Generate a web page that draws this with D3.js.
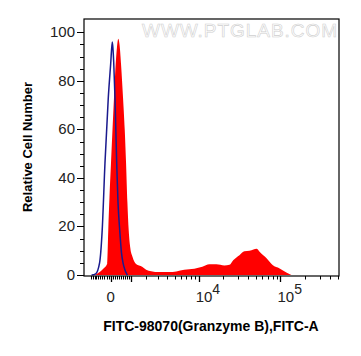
<!DOCTYPE html>
<html><head><meta charset="utf-8">
<script src="https://cdn.jsdelivr.net/npm/d3@7"></script>
<style>
html,body{margin:0;padding:0;background:#fff;}
svg{display:block;font-family:"Liberation Sans",Arial,sans-serif;}
</style></head>
<body><svg id="c" width="361" height="356"></svg>
<script>
// ---- data (FITC-A channel values, relative cell number) ----
const redX = [-780,-570,-370,-165,-115,-58,14,87,159,241,304,368,427,502,603,690,760,830,900,990,1110,1320,1710,1990,2380,3100,4230,5240,6620,8830,11100,13550,16500,20700,23900,26700,31600,36400,41900,46900,51100,55600,62200,67700,80200,97700,118000,135800];
const redY = [0,1,2.5,4.8,18.5,32,46,60,73,87,94,97.4,95,87,73,60,46,30,18.5,11,7.5,4.5,3.4,2.2,1.6,1.2,1.2,1.5,2.2,2.6,3.4,4.4,4.4,3.9,4.2,6.2,8.2,9.8,10,10.5,10.8,9.6,8,6.9,4.1,2.7,1,0];
const blueX = [-960,-740,-540,-410,-275,-115,0,77,111,144,207,290,353,437,527,603,706,827];
const blueY = [0,0.5,5,18.5,46,73,87,96,93,88,73,46,30,18.5,9,5,2,0];
const yTicks = [0,20,40,60,80,100];
const xLabelTicks = [0,1e4,1e5];
const xMajorTicks = [0,1e3,1e4,1e5];
const xDomain = [-1400, 517000];
const yDomain = [-0.4, 105.5];
const cofactor = 1706;
const xTitle = "FITC-98070(Granzyme B),FITC-A";
const yTitle = "Relative Cell Number";
const watermark = "WWW.PTGLAB.COM";

// ---- layout ----
const L = 84, R = 339, T = 19, B = 276;
const svg = d3.select("#c");
const tf = v => Math.asinh(v / cofactor);
const xLin = d3.scaleLinear().domain(xDomain.map(tf)).range([L, R]);
const x = v => xLin(tf(v));
const y = d3.scaleLinear().domain(yDomain).range([B, T]);

svg.append("defs").append("clipPath").attr("id","clip")
  .append("rect").attr("x",L).attr("y",T).attr("width",R-L).attr("height",B-T);

const g = svg.append("g").attr("clip-path","url(#clip)");
const redData = redX.map((d,i)=>[d,redY[i]]);
const blueData = blueX.map((d,i)=>[d,blueY[i]]);
g.append("path").datum(redData)
  .attr("d", d3.area().x(d=>x(d[0])).y0(y(0)).y1(d=>y(d[1])).curve(d3.curveMonotoneX))
  .attr("fill","#ff0000");
g.append("path").datum(blueData)
  .attr("d", d3.line().x(d=>x(d[0])).y(d=>y(d[1])).curve(d3.curveMonotoneX))
  .attr("fill","none").attr("stroke","#1a1a8e").attr("stroke-width",1.5);

// watermark
svg.append("text").attr("x",142).attr("y",37).attr("textLength",195)
  .attr("font-size",19).attr("fill","#fff").attr("stroke","#cfcfcf").attr("stroke-width",0.6)
  .text(watermark);

// frame
svg.append("rect").attr("x",L).attr("y",T).attr("width",R-L).attr("height",B-T)
  .attr("fill","none").attr("stroke","#000").attr("stroke-width",1.2);

// y axis
const yMinor = d3.range(0,101,5);
svg.append("g").selectAll("line").data(yMinor).join("line")
  .attr("x1", d => yTicks.includes(d) ? L-7 : L-4).attr("x2", L)
  .attr("y1", d=>Math.round(y(d))+0.5).attr("y2", d=>Math.round(y(d))+0.5)
  .attr("stroke","#000").attr("stroke-width",1);
svg.append("g").selectAll("text").data(yTicks).join("text")
  .attr("x", L-9).attr("y", d=>y(d)+5).attr("text-anchor","end")
  .attr("font-size",15).attr("fill","#222").text(d=>d);

// x axis ticks
const minor = [];
for (const dec of [100,1000,10000,100000]) {
  for (let k=1;k<=9;k++){ const v=k*dec; if (!xMajorTicks.includes(v)) { minor.push(v); } if (-v>=xDomain[0] && !xMajorTicks.includes(-v)) minor.push(-v); }
}
const minorIn = minor.filter(v=>v>=xDomain[0] && v<=xDomain[1]);
svg.append("g").selectAll("line").data(minorIn).join("line")
  .attr("x1", d=>Math.round(x(d))+0.5).attr("x2", d=>Math.round(x(d))+0.5)
  .attr("y1", B).attr("y2", B+3.5).attr("stroke","#000").attr("stroke-width",1);
svg.append("g").selectAll("line").data(xMajorTicks).join("line")
  .attr("x1", d=>Math.round(x(d))+0.5).attr("x2", d=>Math.round(x(d))+0.5)
  .attr("y1", B).attr("y2", B+6).attr("stroke","#000").attr("stroke-width",1.3);

const xl = svg.append("g").selectAll("text").data(xLabelTicks).join("text")
  .attr("font-size",15).attr("fill","#222");
xl.each(function(d){
  const t = d3.select(this);
  if (d === 0) {
    t.attr("x", x(d)).attr("y", 302).attr("text-anchor","middle").text("0");
  } else {
    const e = Math.round(Math.log10(d));
    t.attr("x", x(d)-3).attr("y", 302).attr("text-anchor","start");
    t.append("tspan").text("10");
    t.append("tspan").attr("dy",-8).attr("font-size",14).text(e);
  }
});

// titles
svg.append("text").attr("x",211).attr("y",331).attr("text-anchor","middle")
  .attr("font-size",14).attr("font-weight","bold").attr("fill","#000").text(xTitle);
svg.append("text").attr("transform","translate(32,147) rotate(-90)").attr("text-anchor","middle")
  .attr("font-size",13).attr("font-weight","bold").attr("fill","#000").text(yTitle);
</script></body></html>
